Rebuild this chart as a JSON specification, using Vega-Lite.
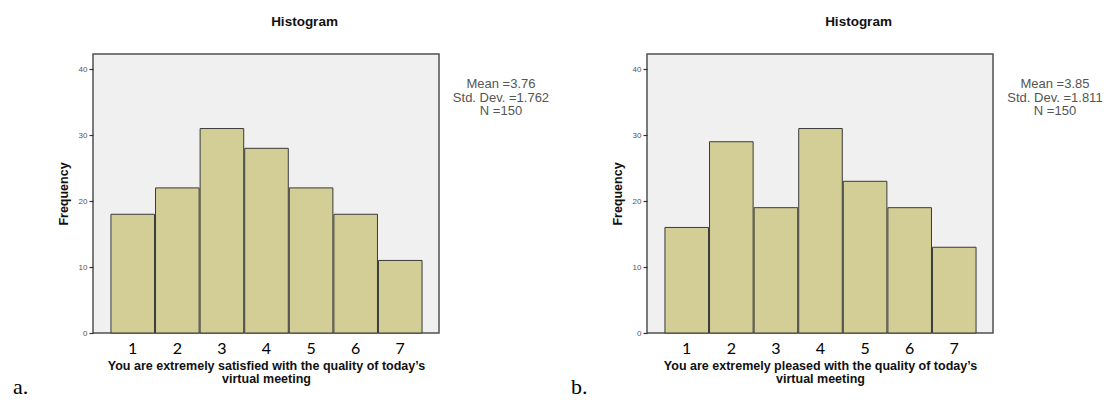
{
  "$schema": "https://vega.github.io/schema/vega-lite/v6.json",
  "background": "white",
  "padding": {"left": 12, "top": 13, "right": 0, "bottom": 0},
  "bounds": "flush",
  "spacing": 208,
  "datasets": {
    "a": [
      {"score": 1, "freq": 18}, {"score": 2, "freq": 22}, {"score": 3, "freq": 31},
      {"score": 4, "freq": 28}, {"score": 5, "freq": 22}, {"score": 6, "freq": 18},
      {"score": 7, "freq": 11}
    ],
    "b": [
      {"score": 1, "freq": 16}, {"score": 2, "freq": 29}, {"score": 3, "freq": 19},
      {"score": 4, "freq": 31}, {"score": 5, "freq": 23}, {"score": 6, "freq": 19},
      {"score": 7, "freq": 13}
    ],
    "statsA": [{"stats": "Mean =3.76\nStd. Dev. =1.762\nN =150", "tag": "a."}],
    "statsB": [{"stats": "Mean =3.85\nStd. Dev. =1.811\nN =150", "tag": "b."}]
  },
  "config": {
    "view": {"stroke": "#505050", "strokeWidth": 1.5, "fill": "#f0f0f0"},
    "title": {"font": "Liberation Sans", "fontSize": 13.5, "fontWeight": "bold", "color": "#111", "frame": "group", "anchor": "middle", "offset": 26, "dx": 38.5},
    "axisX": {"domain": false, "ticks": false, "grid": false, "labelFont": "Lato", "labelFontSize": 16, "labelColor": "#000", "labelPadding": 7, "titleFont": "Liberation Sans", "titleFontSize": 12.5, "titleFontWeight": "bold", "titleColor": "#111", "titlePadding": 3, "titleLineHeight": 13.5},
    "axisY": {"domain": false, "grid": false, "ticks": true, "tickSize": 4, "tickColor": "#333", "tickWidth": 1.2, "labelFont": "Liberation Sans", "labelFontSize": 8, "labelColor": "#555", "labelPadding": 2, "titleFont": "Liberation Sans", "titleFontSize": 12.5, "titleFontWeight": "bold", "titleColor": "#111", "titlePadding": 8}
  },
  "hconcat": [
    {
      "title": "Histogram",
      "width": 346,
      "height": 279,
      "layer": [
        {
          "data": {"name": "a"},
          "mark": {"type": "bar", "fill": "#d3ce96", "stroke": "#3a3a3a", "strokeWidth": 1},
          "encoding": {
            "x": {"field": "score", "type": "quantitative", "bin": {"step": 1, "anchor": 0.5, "extent": [0.5, 7.5], "nice": false},
                  "scale": {"domain": [0.12, 7.88], "nice": false, "zero": false},
                  "axis": {"values": [1, 2, 3, 4, 5, 6, 7], "format": "d", "title": ["You are extremely satisfied with the quality of today’s", "virtual meeting"]}},
            "y": {"field": "freq", "type": "quantitative",
                  "scale": {"domain": [0, 42.3], "nice": false},
                  "axis": {"values": [0, 10, 20, 30, 40], "title": "Frequency"}}
          }
        },
        {
          "data": {"name": "statsA"},
          "mark": {"type": "text", "font": "Liberation Sans", "fontSize": 13, "color": "#555", "align": "center", "baseline": "top", "lineBreak": "\n", "lineHeight": 13.5},
          "encoding": {
            "x": {"datum": 9.27, "type": "quantitative"},
            "y": {"datum": 38.66, "type": "quantitative"},
            "text": {"field": "stats"}
          }
        },
        {
          "data": {"name": "statsA"},
          "mark": {"type": "text", "font": "Liberation Serif", "fontSize": 22, "color": "#000", "align": "left", "baseline": "alphabetic"},
          "encoding": {
            "x": {"datum": -1.674, "type": "quantitative"},
            "y": {"datum": -9.3, "type": "quantitative"},
            "text": {"field": "tag"}
          }
        }
      ]
    },
    {
      "title": "Histogram",
      "width": 346,
      "height": 279,
      "layer": [
        {
          "data": {"name": "b"},
          "mark": {"type": "bar", "fill": "#d3ce96", "stroke": "#3a3a3a", "strokeWidth": 1},
          "encoding": {
            "x": {"field": "score", "type": "quantitative", "bin": {"step": 1, "anchor": 0.5, "extent": [0.5, 7.5], "nice": false},
                  "scale": {"domain": [0.12, 7.88], "nice": false, "zero": false},
                  "axis": {"values": [1, 2, 3, 4, 5, 6, 7], "format": "d", "title": ["You are extremely pleased with the quality of today’s", "virtual meeting"]}},
            "y": {"field": "freq", "type": "quantitative",
                  "scale": {"domain": [0, 42.3], "nice": false},
                  "axis": {"values": [0, 10, 20, 30, 40], "title": "Frequency"}}
          }
        },
        {
          "data": {"name": "statsB"},
          "mark": {"type": "text", "font": "Liberation Sans", "fontSize": 13, "color": "#555", "align": "center", "baseline": "top", "lineBreak": "\n", "lineHeight": 13.5},
          "encoding": {
            "x": {"datum": 9.27, "type": "quantitative"},
            "y": {"datum": 38.66, "type": "quantitative"},
            "text": {"field": "stats"}
          }
        },
        {
          "data": {"name": "statsB"},
          "mark": {"type": "text", "font": "Liberation Serif", "fontSize": 22, "color": "#000", "align": "left", "baseline": "alphabetic"},
          "encoding": {
            "x": {"datum": -1.584, "type": "quantitative"},
            "y": {"datum": -9.3, "type": "quantitative"},
            "text": {"field": "tag"}
          }
        }
      ]
    }
  ]
}
